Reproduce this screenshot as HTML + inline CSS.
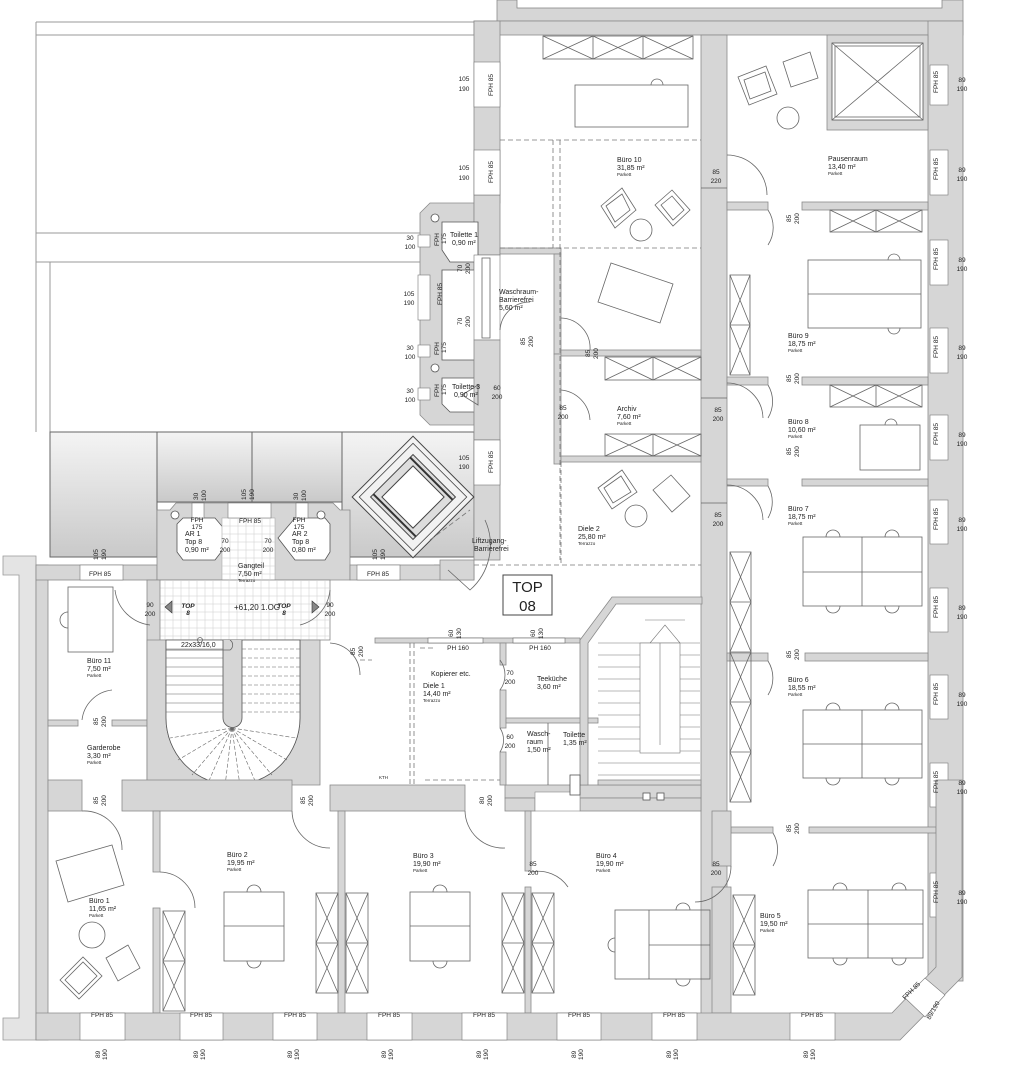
<!DOCTYPE html>
<html><head><meta charset="utf-8"><style>
html,body{margin:0;padding:0;background:#fff}
svg{display:block}
text{font-family:"Liberation Sans",sans-serif;fill:#222}
.w{fill:#d6d6d6;stroke:#8a8a8a;stroke-width:.8}
.l{fill:none;stroke:#666;stroke-width:.8}
.t{fill:none;stroke:#444;stroke-width:.8}
.d{fill:none;stroke:#777;stroke-width:.8;stroke-dasharray:5 3}
.r{fill:#fff;stroke:#555;stroke-width:.8}
.s{font-size:6.5px}
.xs{font-size:4.5px}
.m{font-size:7px}
</style></head><body>
<svg width="1014" height="1080" viewBox="0 0 1014 1080" xmlns="http://www.w3.org/2000/svg">
<defs>
<linearGradient id="g" x1="0" y1="0" x2="0" y2="1"><stop offset="0" stop-color="#f4f4f4"/><stop offset="1" stop-color="#c9c9c9"/></linearGradient>
</defs>

<!-- courtyard lines -->
<g stroke="#999" stroke-width="1" fill="none">
<path d="M36 22H474 M36 35H474 M36 22V262 M36 233H420 M36 262H420 M36 262V432 M50 262V432"/>
</g>
<!-- top strip -->
<rect x="497" y="0" width="466" height="21" class="w"/>
<rect x="517" y="-2" width="425" height="10" fill="#fff" stroke="#888" stroke-width=".8"/>

<!-- gray gradient boxes -->
<rect x="50" y="432" width="107" height="68" fill="url(#g)" stroke="#666"/>
<rect x="157" y="432" width="95" height="70" fill="url(#g)" stroke="#666"/>
<rect x="252" y="432" width="90" height="70" fill="url(#g)" stroke="#666"/>
<rect x="342" y="432" width="132" height="125" fill="url(#g)" stroke="#666"/>
<rect x="50" y="432" width="107" height="125" fill="url(#g)" stroke="#666"/>

<!-- MAIN WALL MASS (upper right) -->
<rect x="474" y="21" width="489" height="14" class="w"/>
<rect x="474" y="21" width="26" height="182" class="w"/>
<rect x="928" y="21" width="35" height="960" class="w"/>
<rect x="701" y="35" width="26" height="980" class="w"/>
<!-- pausenraum skylight wall -->
<rect x="827" y="35" width="101" height="95" class="w"/>
<rect x="832" y="43" width="91" height="77" class="r"/>
<path d="M832 43L923 120M923 43L832 120" class="l"/>
<rect x="835" y="46" width="85" height="71" class="l"/>

<!-- right column horizontal walls -->
<g class="w">
<rect x="727" y="202" width="41" height="8"/><rect x="802" y="202" width="126" height="8"/>
<rect x="727" y="377" width="41" height="8"/><rect x="802" y="377" width="126" height="8"/>
<rect x="727" y="479" width="41" height="7"/><rect x="802" y="479" width="126" height="7"/>
<rect x="727" y="653" width="41" height="8"/><rect x="805" y="653" width="123" height="8"/>
<rect x="731" y="827" width="42" height="6"/><rect x="809" y="827" width="127" height="6"/>
</g>

<!-- toilet block -->
<path d="M430 203H474V425H430L420 415V213Z" class="w"/>
<rect x="474" y="195" width="26" height="60" class="w"/>
<path d="M442 222H478V262H450L442 250Z" class="r"/>
<path d="M442 270H478V360H442Z" class="r"/>
<path d="M442 378H478V412H450L442 404Z" class="r"/>
<circle cx="435" cy="218" r="4" class="r"/><circle cx="435" cy="368" r="4" class="r"/>
<rect x="474" y="255" width="26" height="85" fill="#fff" stroke="#777" stroke-width=".6"/>
<rect x="482" y="258" width="8" height="80" class="l"/>
<rect x="474" y="340" width="26" height="100" class="w"/>
<rect x="474" y="440" width="26" height="120" class="w"/>
<g fill="#fff" stroke="#777" stroke-width=".6">
<rect x="474" y="62" width="26" height="45"/><rect x="474" y="150" width="26" height="45"/>
<rect x="474" y="440" width="26" height="45"/>
<rect x="418" y="235" width="12" height="12"/><rect x="418" y="275" width="12" height="45"/>
<rect x="418" y="345" width="12" height="12"/><rect x="418" y="388" width="12" height="12"/>
</g>

<!-- right wall windows -->
<g fill="#fff" stroke="#777" stroke-width=".6">
<rect x="930" y="65" width="18" height="40"/><rect x="930" y="150" width="18" height="45"/>
<rect x="930" y="240" width="18" height="45"/><rect x="930" y="328" width="18" height="45"/>
<rect x="930" y="415" width="18" height="45"/><rect x="930" y="500" width="18" height="44"/>
<rect x="930" y="588" width="18" height="44"/><rect x="930" y="675" width="18" height="44"/>
<rect x="930" y="763" width="18" height="44"/><rect x="930" y="873" width="18" height="44"/>
</g>

<!-- middle column internal -->
<rect x="500" y="248" width="61" height="6" class="w"/>
<rect x="554" y="254" width="7" height="100" class="w"/>
<rect x="554" y="354" width="7" height="110" class="w"/>
<rect x="561" y="350" width="140" height="6" class="w"/>
<rect x="561" y="456" width="140" height="6" class="w"/>
<path d="M500 140H701M560 140V560M500 248H701" class="d"/>
<path d="M553 140V248" class="d"/>
<path d="M561 462V565M434 565H701" class="d"/>

<!-- Left lower block walls -->
<path d="M3 556H36V1040H3V1018H19V575H3Z" fill="#e4e4e4" stroke="#999" stroke-width=".8"/>
<rect x="36" y="565" width="12" height="475" class="w"/>
<rect x="36" y="565" width="121" height="15" class="w"/>
<path d="M157 510H170L176 503H333L340 510H350V580H157Z" class="w"/>
<rect x="350" y="565" width="124" height="15" class="w"/>
<path d="M440 560H474V580H440Z" class="w"/>
<!-- AR rooms -->
<path d="M183 518H215L232 538L215 560H183L177 552V524Z" class="r"/>
<path d="M295 518H325L330 524V552L325 560H295L278 538Z" class="r"/>
<rect x="222" y="518" width="53" height="62" fill="#fff" stroke="#aaa" stroke-width=".6"/>
<circle cx="175" cy="515" r="4" class="r"/><circle cx="321" cy="515" r="4" class="r"/>
<g fill="#fff" stroke="#777" stroke-width=".6">
<rect x="80" y="565" width="43" height="15"/><rect x="357" y="565" width="43" height="15"/>
<rect x="192" y="503" width="12" height="15"/><rect x="228" y="503" width="43" height="15"/><rect x="296" y="503" width="12" height="15"/>
</g>
<!-- lobby grid -->
<rect x="157" y="580" width="173" height="60" fill="#fff" stroke="#888" stroke-width=".8"/>
<g stroke="#ccc" stroke-width=".5">
<path d="M157 588H330M157 596H330M157 604H330M157 612H330M157 620H330M157 628H330M157 636H330"/>
<path d="M165 580V640M173 580V640M181 580V640M189 580V640M197 580V640M205 580V640M213 580V640M221 580V640M229 580V640M237 580V640M245 580V640M253 580V640M261 580V640M269 580V640M277 580V640M285 580V640M293 580V640M301 580V640M309 580V640M317 580V640M325 580V640"/>
<path d="M222 526H275M222 534H275M222 542H275M222 550H275M222 558H275M222 566H275M222 574H275M230 518V580M238 518V580M246 518V580M254 518V580M262 518V580M270 518V580"/>
</g>

<!-- Büro 11 / Garderobe -->
<rect x="147" y="580" width="13" height="205" class="w"/>
<rect x="48" y="720" width="30" height="6" class="w"/><rect x="112" y="720" width="35" height="6" class="w"/>
<!-- stair left -->
<path d="M147 640H166V718A67 67 0 0 0 300 718V640H320V785H147Z" class="w"/>
<path d="M166 640V718A67 67 0 0 0 300 718V640Z" fill="#fff" stroke="#555" stroke-width=".8"/>
<path d="M223 640V718A9.5 9.5 0 0 0 242 718V640" fill="#d6d6d6" stroke="#555" stroke-width=".8"/>
<g stroke="#666" stroke-width=".6">
<path d="M166 649H223M166 658H223M166 667H223M166 676H223M166 685H223M166 694H223M166 703H223M166 712H223"/>
<path d="M242 649H300M242 658H300M242 667H300M242 676H300M242 685H300M242 694H300M242 703H300M242 712H300" stroke-dasharray="4 2"/>
<path d="M232 728L170 738M232 728L178 760M232 728L192 775M232 728L208 783M232 728L225 786M232 728L240 786M232 728L256 783M232 728L272 775M232 728L287 760M232 728L296 738" stroke-dasharray="4 2"/>
</g>
<path d="M166 650H230A6 6 0 0 0 230 640" class="l"/>
<circle cx="200" cy="640" r="2.5" class="l"/>
<!-- corridor wall -->
<g class="w">
<rect x="48" y="780" width="34" height="31"/><rect x="122" y="780" width="170" height="31"/>
<rect x="330" y="785" width="135" height="26"/><rect x="505" y="785" width="196" height="13"/>
<rect x="505" y="798" width="30" height="13"/><rect x="580" y="798" width="121" height="13"/>
</g>
<rect x="535" y="792" width="45" height="19" fill="#fff" stroke="#888" stroke-width=".6"/>
<!-- lower vertical walls -->
<g class="w">
<rect x="153" y="811" width="7" height="61"/><rect x="153" y="908" width="7" height="105"/>
<rect x="338" y="811" width="7" height="202"/>
<rect x="525" y="811" width="6" height="60"/><rect x="525" y="887" width="6" height="126"/>
<rect x="712" y="811" width="19" height="55"/><rect x="712" y="887" width="19" height="126"/>
</g>
<!-- bottom wall -->
<path d="M36 1013H892L936 967V780H962V977L900 1040H36Z" class="w"/>
<g fill="#fff" stroke="#777" stroke-width=".6">
<rect x="80" y="1013" width="45" height="27"/><rect x="180" y="1013" width="43" height="27"/><rect x="273" y="1013" width="44" height="27"/>
<rect x="367" y="1013" width="45" height="27"/><rect x="462" y="1013" width="45" height="27"/><rect x="557" y="1013" width="44" height="27"/>
<rect x="652" y="1013" width="45" height="27"/><rect x="790" y="1013" width="45" height="27"/>
</g>
<path d="M905 998L925 978L945 995L925 1017Z" fill="#fff" stroke="#777" stroke-width=".6"/>

<!-- Diele1 / Teeküche -->
<rect x="375" y="638" width="205" height="5" class="w"/>
<rect x="428" y="638" width="55" height="5" fill="#fff" stroke="#666" stroke-width=".6"/>
<rect x="513" y="638" width="52" height="5" fill="#fff" stroke="#666" stroke-width=".6"/>
<rect x="500" y="643" width="6" height="22" class="w"/><rect x="500" y="690" width="6" height="38" class="w"/><rect x="500" y="752" width="6" height="33" class="w"/>
<rect x="506" y="718" width="92" height="5" class="w"/>
<path d="M580 640L612 597H702V604H616L588 643V785H580Z" class="w"/>
<path d="M548 723V785" class="l"/>
<path d="M410 643V785M414 643V785M425 780H500" class="d"/>
<path d="M360 660H372M420 648H436" class="d"/>
<!-- right stair -->
<g stroke="#777" stroke-width=".6" fill="none">
<path d="M598 643H700M598 655H700M598 667H700M598 679H700M598 691H700M598 703H700M598 715H700M598 727H700M598 739H700M598 751H700M598 763H700M598 775H700"/>
<rect x="640" y="643" width="40" height="110" fill="#fff"/>
<path d="M660 643V745M645 620H685M650 643L665 625L680 643"/>
</g>
<rect x="598" y="780" width="103" height="5" class="w"/>
<rect x="570" y="775" width="10" height="20" class="r"/>
<rect x="643" y="793" width="7" height="7" class="r"/><rect x="657" y="793" width="7" height="7" class="r"/>

<!-- elevator -->
<g transform="translate(413 497) rotate(45)">
<rect x="-43" y="-43" width="86" height="86" fill="#f2f2f2" stroke="#444"/>
<rect x="-38" y="-38" width="76" height="76" class="t"/>
<rect x="-30" y="-30" width="60" height="60" fill="#ddd" stroke="#444"/>
<rect x="-22" y="-22" width="44" height="44" fill="#fff" stroke="#444"/>
<path d="M-30 -26H30M-30 26H30" stroke="#333" stroke-width="2"/>
</g>
<path d="M448 570L470 590A60 60 0 0 0 485 520" class="l"/>
<path d="M430 540L470 510" class="d"/>

<!-- TOP 08 -->
<rect x="503" y="575" width="49" height="40" fill="#fff" stroke="#444"/>
<text x="527.5" y="592" font-size="15" text-anchor="middle">TOP</text>
<text x="527.5" y="611" font-size="15" text-anchor="middle">08</text>

<!-- door arcs -->
<g class="l">
<path d="M727 155A40 40 0 0 1 767 195M768 210A32 32 0 0 1 768 245M768 385A32 32 0 0 1 768 418M727 383A36 36 0 0 1 763 418M768 486A32 32 0 0 1 768 518M727 485A36 36 0 0 1 763 520M768 661A32 32 0 0 1 768 695M773 833A32 32 0 0 1 773 866M731 866A36 36 0 0 1 695 902"/>
<path d="M701 188H727M701 398H727M701 503H727"/>
<path d="M561 318A30 30 0 0 1 590 350M530 302A30 30 0 0 0 500 330M561 390A32 32 0 0 1 590 420M500 660A25 25 0 0 1 500 690M500 728A22 22 0 0 1 500 752"/>
<path d="M115 590A40 40 0 0 0 150 625M330 590A40 40 0 0 1 300 625M82 811A38 38 0 0 1 122 850M82 720A34 34 0 0 1 112 690M160 872A36 36 0 0 1 195 908M292 811A38 38 0 0 0 330 848M465 811A38 38 0 0 0 505 848M531 872A36 36 0 0 1 568 887M330 643A32 32 0 0 1 360 675"/>
<path d="M462 395L478 385L478 405Z"/>
</g>

<!-- shelves with X -->
<g class="l">
<rect x="543" y="36" width="150" height="23"/><path d="M543 36L593 59M593 36L543 59M593 36L643 59M643 36L593 59M643 36L693 59M693 36L643 59M593 36V59M643 36V59"/>
<rect x="605" y="357" width="96" height="23"/><path d="M605 357L653 380M653 357L605 380M653 357L701 380M701 357L653 380M653 357V380"/>
<rect x="605" y="434" width="96" height="22"/><path d="M605 434L653 456M653 434L605 456M653 434L701 456M701 434L653 456M653 434V456"/>
<rect x="830" y="210" width="92" height="22"/><path d="M830 210L876 232M876 210L830 232M876 210L922 232M922 210L876 232M876 210V232"/>
<rect x="830" y="385" width="92" height="22"/><path d="M830 385L876 407M876 385L830 407M876 385L922 407M922 385L876 407M876 385V407"/>
<rect x="730" y="275" width="20" height="100"/><path d="M730 275L750 325M750 275L730 325M730 325L750 375M750 325L730 375M730 325H750"/>
<rect x="730" y="552" width="21" height="250"/><path d="M730 552L751 602M751 552L730 602M730 602L751 652M751 602L730 652M730 652L751 702M751 652L730 702M730 702L751 752M751 702L730 752M730 752L751 802M751 752L730 802M730 602H751M730 652H751M730 702H751M730 752H751"/>
<rect x="733" y="895" width="22" height="100"/><path d="M733 895L755 945M755 895L733 945M733 945L755 995M755 945L733 995M733 945H755"/>
<rect x="163" y="911" width="22" height="100"/><path d="M163 911L185 961M185 911L163 961M163 961L185 1011M185 961L163 1011M163 961H185"/>
<rect x="316" y="893" width="22" height="100"/><path d="M316 893L338 943M338 893L316 943M316 943L338 993M338 943L316 993M316 943H338"/>
<rect x="346" y="893" width="22" height="100"/><path d="M346 893L368 943M368 893L346 943M346 943L368 993M368 943L346 993M346 943H368"/>
<rect x="502" y="893" width="22" height="100"/><path d="M502 893L524 943M524 893L502 943M502 943L524 993M524 943L502 993M502 943H524"/>
<rect x="532" y="893" width="22" height="100"/><path d="M532 893L554 943M554 893L532 943M532 943L554 993M554 943L532 993M532 943H554"/>
</g>

<!-- tables -->
<g class="l">
<rect x="575" y="85" width="113" height="42"/><path d="M651 85A6 6 0 0 1 663 85"/>
<rect x="808" y="260" width="113" height="68"/><path d="M808 294H921M888 260A6 6 0 0 1 900 260M888 328A6 6 0 0 0 900 328"/>
<rect x="860" y="425" width="60" height="45"/><path d="M885 425A6 6 0 0 1 897 425"/>
<rect x="803" y="537" width="119" height="69"/><path d="M803 572H922M862 537V606M826 537A7 7 0 0 1 840 537M885 537A7 7 0 0 1 899 537M826 606A7 7 0 0 0 840 606M885 606A7 7 0 0 0 899 606"/>
<rect x="803" y="710" width="119" height="68"/><path d="M803 744H922M862 710V778M826 710A7 7 0 0 1 840 710M885 710A7 7 0 0 1 899 710M826 778A7 7 0 0 0 840 778M885 778A7 7 0 0 0 899 778"/>
<rect x="808" y="890" width="115" height="68"/><path d="M808 924H923M868 890V958M833 890A7 7 0 0 1 847 890M892 890A7 7 0 0 1 906 890M833 958A7 7 0 0 0 847 958M892 958A7 7 0 0 0 906 958"/>
<rect x="224" y="892" width="60" height="69"/><path d="M224 926H284M247 892A7 7 0 0 1 261 892M247 961A7 7 0 0 0 261 961"/>
<rect x="410" y="892" width="60" height="69"/><path d="M410 926H470M433 892A7 7 0 0 1 447 892M433 961A7 7 0 0 0 447 961"/>
<rect x="615" y="910" width="95" height="69"/><path d="M649 910V979M649 945H710M676 910A7 7 0 0 1 690 910M676 979A7 7 0 0 0 690 979M615 938A7 7 0 0 0 615 952"/>
<rect x="68" y="587" width="45" height="65"/><path d="M68 612A8 8 0 0 0 68 628"/>
<path d="M611 263L673 284L660 323L598 302Z"/>
<path d="M56 861L112 845L124 885L68 902Z"/>
<circle cx="92" cy="935" r="13"/>
<path d="M60 980L83 957L102 976L79 999Z M65 980L83 962L97 976L79 994Z"/>
<path d="M106 958L128 945L140 968L118 981Z"/>
<path d="M601 206L622 188L636 210L615 228Z M606 206L622 194L630 210L615 222Z"/>
<path d="M655 205L672 190L690 210L673 226Z M661 205L672 196L684 210L673 220Z"/>
<circle cx="641" cy="230" r="11"/>
<path d="M738 77L766 66L777 94L749 105Z M744 80L765 72L771 91L750 99Z"/>
<path d="M783 62L810 52L818 78L791 87Z"/>
<circle cx="788" cy="118" r="11"/>
<path d="M598 488L622 470L637 492L612 509Z M604 488L621 476L631 492L613 503Z"/>
<path d="M653 490L671 475L690 496L672 512Z"/>
<circle cx="636" cy="516" r="11"/>
</g>

<!-- labels -->
<g class="m">
<text x="617" y="162">Büro 10</text><text x="617" y="170">31,85 m²</text>
<text x="828" y="161">Pausenraum</text><text x="828" y="169">13,40 m²</text>
<text x="499" y="294">Waschraum-</text><text x="499" y="302">Barrierefrei</text><text x="499" y="310">5,60 m²</text>
<text x="450" y="237">Toilette 1</text><text x="452" y="245">0,90 m²</text>
<text x="452" y="389">Toilette 3</text><text x="454" y="397">0,90 m²</text>
<text x="617" y="411">Archiv</text><text x="617" y="419">7,60 m²</text>
<text x="788" y="338">Büro 9</text><text x="788" y="346">18,75 m²</text>
<text x="788" y="424">Büro 8</text><text x="788" y="432">10,60 m²</text>
<text x="788" y="511">Büro 7</text><text x="788" y="519">18,75 m²</text>
<text x="788" y="682">Büro 6</text><text x="788" y="690">18,55 m²</text>
<text x="760" y="918">Büro 5</text><text x="760" y="926">19,50 m²</text>
<text x="578" y="531">Diele 2</text><text x="578" y="539">25,80 m²</text>
<text x="472" y="543">Liftzugang-</text><text x="474" y="551">Barrierefrei</text>
<text x="185" y="536">AR 1</text><text x="185" y="544">Top 8</text><text x="185" y="552">0,90 m²</text>
<text x="292" y="536">AR 2</text><text x="292" y="544">Top 8</text><text x="292" y="552">0,80 m²</text>
<text x="238" y="568">Gangteil</text><text x="238" y="576">7,50 m²</text>
<text x="234" y="610" font-size="8">+61,20 1.OG</text>
<text x="181" y="647">22x33/16,0</text>
<text x="87" y="663">Büro 11</text><text x="87" y="671">7,50 m²</text>
<text x="87" y="750">Garderobe</text><text x="87" y="758">3,30 m²</text>
<text x="431" y="676">Kopierer etc.</text>
<text x="423" y="688">Diele 1</text><text x="423" y="696">14,40 m²</text>
<text x="537" y="681">Teeküche</text><text x="537" y="689">3,60 m²</text>
<text x="527" y="736">Wasch-</text><text x="527" y="744">raum</text><text x="527" y="752">1,50 m²</text>
<text x="563" y="737">Toilette</text><text x="563" y="745">1,35 m²</text>
<text x="89" y="903">Büro 1</text><text x="89" y="911">11,65 m²</text>
<text x="227" y="857">Büro 2</text><text x="227" y="865">19,95 m²</text>
<text x="413" y="858">Büro 3</text><text x="413" y="866">19,90 m²</text>
<text x="596" y="858">Büro 4</text><text x="596" y="866">19,90 m²</text>
</g>
<g class="xs">
<text x="617" y="176">Parkett</text><text x="828" y="175">Parkett</text><text x="617" y="425">Parkett</text>
<text x="788" y="352">Parkett</text><text x="788" y="438">Parkett</text><text x="788" y="525">Parkett</text><text x="788" y="696">Parkett</text><text x="760" y="932">Parkett</text>
<text x="578" y="545">Terrazzo</text><text x="238" y="582">Terrazzo</text><text x="423" y="702">Terrazzo</text>
<text x="87" y="677">Parkett</text><text x="87" y="764">Parkett</text><text x="89" y="917">Parkett</text>
<text x="227" y="871">Parkett</text><text x="413" y="872">Parkett</text><text x="596" y="872">Parkett</text>
<text x="379" y="779">KTH</text>
</g>
<g class="s" text-anchor="middle">
<text x="458" y="650">PH 160</text><text x="540" y="650">PH 160</text>
<text x="188" y="608" font-style="italic" font-weight="bold">TOP</text><text x="188" y="615" font-style="italic" font-weight="bold">8</text>
<text x="284" y="608" font-style="italic" font-weight="bold">TOP</text><text x="284" y="615" font-style="italic" font-weight="bold">8</text>
<text x="197" y="522">FPH</text><text x="197" y="529">175</text><text x="299" y="522">FPH</text><text x="299" y="529">175</text>
<text x="250" y="523">FPH 85</text><text x="100" y="576">FPH 85</text><text x="378" y="576">FPH 85</text>
</g>
<path d="M172 601L165 607L172 613Z M312 601L319 607L312 613Z" fill="#888" stroke="#333" stroke-width=".6"/>

<!-- fraction dims horizontal -->
<g class="s" text-anchor="middle">
<text x="464" y="81">105</text><text x="464" y="91">190</text>
<text x="464" y="170">105</text><text x="464" y="180">190</text>
<text x="410" y="240">30</text><text x="410" y="249">100</text>
<text x="409" y="296">105</text><text x="409" y="305">190</text>
<text x="410" y="350">30</text><text x="410" y="359">100</text>
<text x="410" y="393">30</text><text x="410" y="402">100</text>
<text x="464" y="460">105</text><text x="464" y="469">190</text>
<text x="497" y="390">60</text><text x="497" y="399">200</text>
<text x="716" y="174">85</text><text x="716" y="183">220</text>
<text x="563" y="410">85</text><text x="563" y="419">200</text>
<text x="718" y="412">85</text><text x="718" y="421">200</text>
<text x="718" y="517">85</text><text x="718" y="526">200</text>
<text x="225" y="543">70</text><text x="225" y="552">200</text>
<text x="268" y="543">70</text><text x="268" y="552">200</text>
<text x="150" y="607">90</text><text x="150" y="616">200</text>
<text x="330" y="607">90</text><text x="330" y="616">200</text>
<text x="510" y="675">70</text><text x="510" y="684">200</text>
<text x="510" y="739">60</text><text x="510" y="748">200</text>
<text x="533" y="866">85</text><text x="533" y="875">200</text>
<text x="716" y="866">85</text><text x="716" y="875">200</text>
<text x="962" y="82">89</text><text x="962" y="91">190</text>
<text x="962" y="172">89</text><text x="962" y="181">190</text>
<text x="962" y="262">89</text><text x="962" y="271">190</text>
<text x="962" y="350">89</text><text x="962" y="359">190</text>
<text x="962" y="437">89</text><text x="962" y="446">190</text>
<text x="962" y="522">89</text><text x="962" y="531">190</text>
<text x="962" y="610">89</text><text x="962" y="619">190</text>
<text x="962" y="697">89</text><text x="962" y="706">190</text>
<text x="962" y="785">89</text><text x="962" y="794">190</text>
<text x="962" y="895">89</text><text x="962" y="904">190</text>
</g>
<!-- rotated dims -->
<g class="s">
<text transform="translate(791 222) rotate(-90)">85</text><text transform="translate(799 224) rotate(-90)">200</text>
<text transform="translate(791 382) rotate(-90)">85</text><text transform="translate(799 384) rotate(-90)">200</text>
<text transform="translate(791 455) rotate(-90)">85</text><text transform="translate(799 457) rotate(-90)">200</text>
<text transform="translate(791 658) rotate(-90)">85</text><text transform="translate(799 660) rotate(-90)">200</text>
<text transform="translate(791 832) rotate(-90)">85</text><text transform="translate(799 834) rotate(-90)">200</text>
<text transform="translate(525 345) rotate(-90)">85</text><text transform="translate(533 347) rotate(-90)">200</text>
<text transform="translate(590 357) rotate(-90)">85</text><text transform="translate(598 359) rotate(-90)">200</text>
<text transform="translate(462 272) rotate(-90)">70</text><text transform="translate(470 274) rotate(-90)">200</text>
<text transform="translate(462 325) rotate(-90)">70</text><text transform="translate(470 327) rotate(-90)">200</text>
<text transform="translate(439 246) rotate(-90)">FPH</text><text transform="translate(446 244) rotate(-90)">175</text>
<text transform="translate(439 355) rotate(-90)">FPH</text><text transform="translate(446 353) rotate(-90)">175</text>
<text transform="translate(439 397) rotate(-90)">FPH</text><text transform="translate(446 395) rotate(-90)">175</text>
<text transform="translate(442 305) rotate(-90)">FPH 85</text>
<text transform="translate(493 96) rotate(-90)">FPH 85</text><text transform="translate(493 183) rotate(-90)">FPH 85</text><text transform="translate(493 473) rotate(-90)">FPH 85</text>
<text transform="translate(98 560) rotate(-90)">105</text><text transform="translate(106 560) rotate(-90)">190</text>
<text transform="translate(377 560) rotate(-90)">105</text><text transform="translate(385 560) rotate(-90)">190</text>
<text transform="translate(198 500) rotate(-90)">30</text><text transform="translate(206 501) rotate(-90)">100</text>
<text transform="translate(246 500) rotate(-90)">105</text><text transform="translate(254 500) rotate(-90)">190</text>
<text transform="translate(298 500) rotate(-90)">30</text><text transform="translate(306 501) rotate(-90)">100</text>
<text transform="translate(453 637) rotate(-90)">60</text><text transform="translate(461 639) rotate(-90)">130</text>
<text transform="translate(535 637) rotate(-90)">60</text><text transform="translate(543 639) rotate(-90)">130</text>
<text transform="translate(355 655) rotate(-90)">85</text><text transform="translate(363 657) rotate(-90)">200</text>
<text transform="translate(98 725) rotate(-90)">85</text><text transform="translate(106 727) rotate(-90)">200</text>
<text transform="translate(98 804) rotate(-90)">85</text><text transform="translate(106 806) rotate(-90)">200</text>
<text transform="translate(305 804) rotate(-90)">85</text><text transform="translate(313 806) rotate(-90)">200</text>
<text transform="translate(484 804) rotate(-90)">80</text><text transform="translate(492 806) rotate(-90)">200</text>
<text transform="translate(938 93) rotate(-90)">FPH 85</text><text transform="translate(938 180) rotate(-90)">FPH 85</text>
<text transform="translate(938 270) rotate(-90)">FPH 85</text><text transform="translate(938 358) rotate(-90)">FPH 85</text>
<text transform="translate(938 445) rotate(-90)">FPH 85</text><text transform="translate(938 530) rotate(-90)">FPH 85</text>
<text transform="translate(938 618) rotate(-90)">FPH 85</text><text transform="translate(938 705) rotate(-90)">FPH 85</text>
<text transform="translate(938 793) rotate(-90)">FPH 85</text><text transform="translate(938 903) rotate(-90)">FPH 85</text>
<text transform="translate(100 1058) rotate(-90)">89</text><text transform="translate(107 1060) rotate(-90)">190</text>
<text transform="translate(198 1058) rotate(-90)">89</text><text transform="translate(205 1060) rotate(-90)">190</text>
<text transform="translate(292 1058) rotate(-90)">89</text><text transform="translate(299 1060) rotate(-90)">190</text>
<text transform="translate(386 1058) rotate(-90)">89</text><text transform="translate(393 1060) rotate(-90)">190</text>
<text transform="translate(481 1058) rotate(-90)">89</text><text transform="translate(488 1060) rotate(-90)">190</text>
<text transform="translate(576 1058) rotate(-90)">89</text><text transform="translate(583 1060) rotate(-90)">190</text>
<text transform="translate(671 1058) rotate(-90)">89</text><text transform="translate(678 1060) rotate(-90)">190</text>
<text transform="translate(808 1058) rotate(-90)">89</text><text transform="translate(815 1060) rotate(-90)">190</text>
<text transform="translate(905 1000) rotate(-45)">FPH 85</text>
<text transform="translate(930 1020) rotate(-60)">89/190</text>
</g>
<g class="s" text-anchor="middle">
<text x="102" y="1017">FPH 85</text><text x="201" y="1017">FPH 85</text><text x="295" y="1017">FPH 85</text>
<text x="389" y="1017">FPH 85</text><text x="484" y="1017">FPH 85</text><text x="579" y="1017">FPH 85</text>
<text x="674" y="1017">FPH 85</text><text x="812" y="1017">FPH 85</text>
</g>
</svg>
</body></html>
